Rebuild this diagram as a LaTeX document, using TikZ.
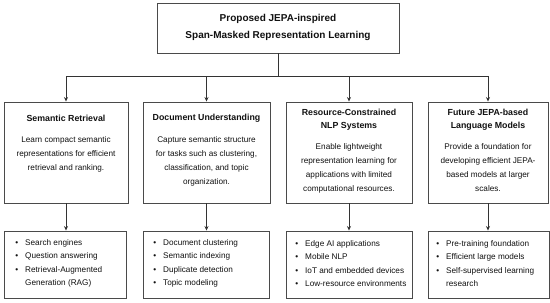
\documentclass[tikz,border=0pt]{standalone}
\usepackage{fontspec}
\setmainfont{Liberation Sans}
\usetikzlibrary{arrows.meta}
\definecolor{boxc}{HTML}{4A4A4A}
\definecolor{linec}{HTML}{333333}
\definecolor{txt}{HTML}{111111}
\newcommand{\bitem}{\llap{\textbullet\hspace{7pt}}}
\begin{document}
\begin{tikzpicture}[x=1pt,y=-1pt,
  box/.style={draw=boxc, line width=0.9pt, rectangle, inner sep=0pt, fill=white},
  conn/.style={draw=linec, line width=0.9pt},
  arr/.style={conn, -{Stealth[length=4.5pt,width=4pt]}},
  ttl/.style={font=\fontsize{10}{17}\selectfont\bfseries, align=center, text=txt},
  hd/.style={font=\fontsize{8.8}{13}\selectfont\bfseries, align=center, text=txt},
  bd/.style={font=\fontsize{8.2}{14}\selectfont, align=center, text=txt},
  lst/.style={font=\fontsize{8.2}{13.5}\selectfont, align=left, anchor=west, text=txt, inner sep=0pt},
]
\useasboundingbox (0,0) rectangle (550,303);
% top
\node[box, minimum width=242pt, minimum height=50pt] (top) at (278,28) {};
\node[ttl] (ttltext) at (278,27.5) {Proposed JEPA-inspired\\Span-Masked Representation Learning};
% middle boxes
\node[box, minimum width=124pt, minimum height=101pt] (m1) at (66,152.5) {};
\node[box, minimum width=127pt, minimum height=101pt] (m2) at (206.5,152.5) {};
\node[box, minimum width=126pt, minimum height=101pt] (m3) at (349,152.5) {};
\node[box, minimum width=120pt, minimum height=101pt] (m4) at (488,152.5) {};
% bottom boxes
\node[box, minimum width=122pt, minimum height=67pt] (b1) at (65,264.5) {};
\node[box, minimum width=126pt, minimum height=67pt] (b2) at (206,264.5) {};
\node[box, minimum width=126pt, minimum height=67pt] (b3) at (349,264.5) {};
\node[box, minimum width=121pt, minimum height=67pt] (b4) at (488.5,264.5) {};
% headings
\node[hd] (h1) at (66,118) {Semantic Retrieval};
\node[hd] (h2) at (206.5,118) {Document Understanding};
\node[hd] (h3) at (349,119.5) {Resource-Constrained\\NLP Systems};
\node[hd] (h4) at (488,119.5) {Future JEPA-based\\Language Models};
% bodies
\node[bd] (t1) at (66,154) {Learn compact semantic\\representations for efficient\\retrieval and ranking.};
\node[bd] (t2) at (206.5,161) {Capture semantic structure\\for tasks such as clustering,\\classification, and topic\\organization.};
\node[bd] (t3) at (349,168) {Enable lightweight\\representation learning for\\applications with limited\\computational resources.};
\node[bd] (t4) at (488,167.5) {Provide a foundation for\\developing efficient JEPA-\\based models at larger\\scales.};
% lists
\node[lst] (l1) at (25,263.5) {\bitem Search engines\\\bitem Question answering\\\bitem Retrieval-Augmented\\Generation (RAG)};
\node[lst] (l2) at (163,263.5) {\bitem Document clustering\\\bitem Semantic indexing\\\bitem Duplicate detection\\\bitem Topic modeling};
\node[lst] (l3) at (305,263.5) {\bitem Edge AI applications\\\bitem Mobile NLP\\\bitem IoT and embedded devices\\\bitem Low-resource environments};
\node[lst] (l4) at (446,263.5) {\bitem Pre-training foundation\\\bitem Efficient large models\\\bitem Self-supervised learning\\research};
% connectors
\draw[conn] (top.south) -- ++(0,23) coordinate (j);
\draw[conn] (m1.north |- j) -- (m4.north |- j);
\foreach \n in {m1,m2,m3,m4} \draw[arr] (\n.north |- j) -- (\n.north);
\draw[arr] (m1.south) -- (m1.south |- b1.north);
\draw[arr] (m2.south) -- (m2.south |- b2.north);
\draw[arr] (m3.south) -- (m3.south |- b3.north);
\draw[arr] (m4.south) -- (m4.south |- b4.north);
\end{tikzpicture}
\end{document}
